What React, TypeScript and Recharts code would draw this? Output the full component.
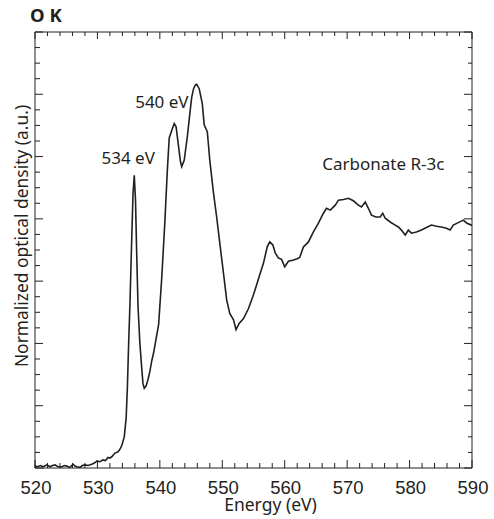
import React from 'react';
import { LineChart, Line, XAxis, YAxis, ReferenceDot } from 'recharts';

// O K-edge spectrum, carbonate R-3c
const energy = [
  520.0, 520.4, 520.9, 521.3, 521.9, 522.4, 522.8, 523.2, 523.7, 524.3,
  524.7, 525.1, 525.6, 526.1, 526.4, 526.7, 527.2, 527.6, 528.0, 528.5,
  529.1, 529.5, 529.9, 530.4, 530.9, 531.3, 531.7, 532.0, 532.3, 532.8,
  533.3, 533.6, 533.9, 534.3, 534.6, 534.8, 535.0, 535.2, 535.5, 535.7,
  535.9, 536.1, 536.3, 536.5, 536.8, 537.1, 537.3, 537.5, 537.8, 538.1,
  538.4, 538.7, 539.0, 539.3, 539.8, 540.3, 540.8, 541.2, 541.5, 541.9,
  542.3, 542.6, 543.0, 543.3, 543.5, 543.9, 544.4, 544.8, 545.1, 545.4,
  545.7, 545.9, 546.3, 546.8, 547.1, 547.6, 548.0, 548.6, 549.1, 549.6,
  550.2, 550.7, 551.2, 551.8, 552.2, 552.7, 553.4, 554.2, 555.0, 555.8,
  556.6, 557.2, 557.6, 558.1, 558.5, 559.0, 559.5, 560.0, 560.6, 561.4,
  562.0, 562.4, 563.0, 563.8, 564.6, 565.4, 566.2, 566.7, 567.3, 568.1,
  568.6, 569.4, 570.2, 571.0, 571.8, 572.3, 572.9, 573.4, 573.9, 574.6,
  575.3, 575.7, 576.1, 576.9, 577.7, 578.2, 578.7, 579.3, 579.8, 580.3,
  581.1, 581.9, 582.7, 583.5, 584.3, 585.1, 585.9, 586.5, 587.0, 587.8,
  588.6, 589.2, 589.9, 590.0,
];
const density = [
  0.03, 0.02, 0.04, 0.02, 0.05, 0.02, 0.04, 0.05, 0.02, 0.02,
  0.04, 0.03, 0.01, 0.06, 0.03, 0.02, 0.01, 0.04, 0.05, 0.04,
  0.06, 0.08, 0.11, 0.10, 0.13, 0.12, 0.17, 0.16, 0.18, 0.24,
  0.26, 0.30, 0.36, 0.50, 0.80, 1.30, 2.00, 2.60, 3.70, 4.40,
  4.70, 4.30, 3.40, 2.60, 2.00, 1.60, 1.35, 1.28, 1.32, 1.42,
  1.55, 1.72, 1.85, 2.02, 2.30, 3.05, 3.95, 4.78, 5.30, 5.42,
  5.53, 5.48, 5.16, 4.92, 4.84, 4.94, 5.32, 5.69, 5.95, 6.09,
  6.15, 6.16, 6.09, 5.85, 5.51, 5.40, 4.94, 4.41, 4.03, 3.61,
  3.12, 2.70, 2.48, 2.38, 2.22, 2.32, 2.40, 2.56, 2.78, 3.04,
  3.29, 3.55, 3.63, 3.58, 3.45, 3.37, 3.35, 3.23, 3.32, 3.34,
  3.36, 3.38, 3.55, 3.63, 3.79, 3.93, 4.09, 4.17, 4.14, 4.22,
  4.30, 4.31, 4.33, 4.29, 4.22, 4.19, 4.27, 4.17, 4.06, 4.03,
  4.03, 4.09, 4.01, 3.95, 3.90, 3.87, 3.82, 3.74, 3.82, 3.77,
  3.79, 3.82, 3.86, 3.90, 3.88, 3.87, 3.85, 3.82, 3.90, 3.94,
  3.98, 3.93, 3.90, 3.90,
];
const xTicks = Array.from({ length: 36 }, (_, i) => 520 + i * 2);
const yTicks = Array.from({ length: 29 }, (_, i) => i * 0.25);

const data = energy.map((e, i) => ({ e, v: density[i] }));

const INK = '#231f20';
const TICK_FONT = '"Liberation Sans", Arial, sans-serif';
const TEXT_FONT = '"Noto Sans", sans-serif';

// ticks point into the plot; long ones on the labelled values
const BottomTick = (p: any) => {
  const major = p.payload.value % 10 === 0;
  return (
    <g>
      <line x1={p.x} x2={p.x} y1={p.y} y2={p.y - (major ? 8 : 5)} stroke={INK} />
      {major && (
        <text x={p.x + 1} y={p.y + 26} textAnchor="middle" fontSize={18.5} fontFamily={TICK_FONT} fill={INK}>
          {p.payload.value}
        </text>
      )}
    </g>
  );
};
const TopTick = (p: any) => {
  const major = p.payload.value % 10 === 0;
  return <line x1={p.x} x2={p.x} y1={p.y} y2={p.y + (major ? 7 : 4)} stroke={INK} />;
};
const LeftTick = (p: any) => {
  const major = p.payload.value % 1 === 0;
  return <line x1={p.x} x2={p.x + (major ? 8 : 5)} y1={p.y} y2={p.y} stroke={INK} />;
};
const RightTick = (p: any) => {
  const major = p.payload.value % 1 === 0;
  return <line x1={p.x} x2={p.x - (major ? 8 : 4)} y1={p.y} y2={p.y} stroke={INK} />;
};

const note = (value: string, position: 'left' | 'right') => ({
  value, position, offset: 0, fontSize: 17, fontFamily: TEXT_FONT, fill: INK,
});

export default function App() {
  return (
    <div style={{ position: 'absolute', left: 0, top: 0, width: 494, height: 519, background: '#fff' }}>
      <LineChart width={494} height={519} data={data} margin={{ top: 31, right: 21, left: 0, bottom: 0 }}>
        <XAxis xAxisId="b" dataKey="e" type="number" domain={[520, 590]} ticks={xTicks} interval={0}
               height={51} tickSize={0} tickMargin={0} tickLine={false} tick={<BottomTick />}
               axisLine={{ stroke: INK }} />
        <XAxis xAxisId="t" orientation="top" dataKey="e" type="number" domain={[520, 590]} ticks={xTicks} interval={0}
               height={1} tickSize={0} tickMargin={0} tickLine={false} tick={<TopTick />} axisLine={{ stroke: INK }} />
        <YAxis yAxisId="l" type="number" domain={[0, 7]} ticks={yTicks} interval={0} width={35}
               tickSize={0} tickMargin={0} tickLine={false} tick={<LeftTick />} axisLine={{ stroke: INK }} />
        <YAxis yAxisId="r" orientation="right" type="number" domain={[0, 7]} ticks={yTicks} interval={0} width={1}
               tickSize={0} tickMargin={0} tickLine={false} tick={<RightTick />} axisLine={{ stroke: INK }} />
        <Line xAxisId="b" yAxisId="l" type="linear" dataKey="v" stroke={INK} strokeWidth={1.6}
              dot={false} isAnimationActive={false} />
        <Line xAxisId="t" yAxisId="r" type="linear" dataKey="v" stroke="none" strokeWidth={0}
              dot={false} isAnimationActive={false} legendType="none" />
        <ReferenceDot xAxisId="b" yAxisId="l" x={539.2} y={4.98} r={0} stroke="none" label={note('534 eV', 'left')} />
        <ReferenceDot xAxisId="b" yAxisId="l" x={544.6} y={5.87} r={0} stroke="none" label={note('540 eV', 'left')} />
        <ReferenceDot xAxisId="b" yAxisId="l" x={566.0} y={4.88} r={0} stroke="none" label={note('Carbonate R-3c', 'right')} />
      </LineChart>
      <svg width={494} height={519} style={{ position: 'absolute', left: 0, top: 0, pointerEvents: 'none' }}>
        <text x={30} y={22} fontSize={18.5} fontWeight="bold" fontFamily={TEXT_FONT} fill={INK}>O K</text>
        <text transform="translate(21,236) rotate(-90)" textAnchor="middle" dominantBaseline="central"
              fontSize={17.4} fontFamily={TEXT_FONT} fill={INK}>
          Normalized optical density (a.u.)
        </text>
        <text x={270.5} y={511} textAnchor="middle" fontSize={17.5} fontFamily={TEXT_FONT} fill={INK}>
          Energy (eV)
        </text>
      </svg>
    </div>
  );
}
